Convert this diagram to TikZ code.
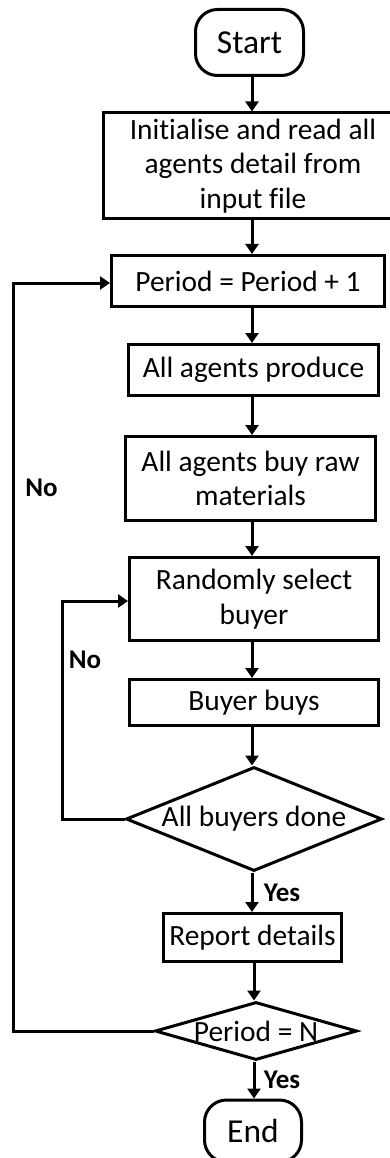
\documentclass[tikz,border=0pt]{standalone}
\usepackage{fontspec}
\setmainfont{Carlito}[Ligatures=NoCommon]
\usetikzlibrary{shapes.geometric,arrows.meta}
\begin{document}
\begin{tikzpicture}[x=1pt,y=-1pt,line width=3pt,
  box/.style={draw,rectangle,inner sep=0pt,align=center,
    font=\fontsize{29.4}{34.5}\selectfont},
  term/.style={draw,rectangle,rounded corners=22pt,inner sep=0pt,
    font=\fontsize{33.5}{40}\selectfont},
  decision/.style={draw,diamond,inner sep=0pt,
    font=\fontsize{29.4}{34.5}\selectfont},
  flow/.style={-{Triangle[length=10pt,width=13pt]}},
  lbl/.style={font=\bfseries\fontsize{27}{32}\selectfont,inner sep=0pt}]
\useasboundingbox (0,0) rectangle (389,1158);

% process column
\node[term,minimum width=108pt,minimum height=66pt] (start) at (249.5,42.5) {Start};
\node[box,minimum width=299pt,minimum height=106pt] (init) at (253,166)
  {Initialise and read all\\agents detail from\\input file};
\node[box,minimum width=273pt,minimum height=51pt] (period) at (248,281) {Period = Period + 1};
\node[box,minimum width=250pt,minimum height=51pt] (produce) at (253.5,370) {All agents produce};
\node[box,minimum width=250pt,minimum height=84pt] (buyraw) at (250.5,478.5)
  {All agents buy raw\\materials};
\node[box,minimum width=249pt,minimum height=83pt] (select) at (254,599)
  {Randomly select\\buyer};
\node[box,minimum width=249pt,minimum height=46pt] (buys) at (254,702.5) {Buyer buys};
\node[decision,aspect=2.46,minimum width=256pt,minimum height=104pt] (done) at (254,819) {All buyers done};
\node[box,minimum width=178pt,minimum height=48pt] (report) at (252.5,937.5) {Report details};
\node[decision,aspect=3.48,minimum width=202pt,minimum height=58pt] (last) at (256,1031) {Period = N};
\node[term,minimum width=97pt,minimum height=62pt] (end) at (253,1131) {End};

% arrow columns and loop corners
\coordinate (col) at (252,0);
\coordinate (colb) at (254,0);
\coordinate (outer) at (13,283);
\coordinate (inner) at (62,601);

% main flow
\draw[flow] (start.south -| col) -- (init.north -| col);
\draw[flow] (init.south -| col) -- (period.north -| col);
\draw[flow] (period.south -| col) -- (produce.north -| col);
\draw[flow] (produce.south -| col) -- (buyraw.north -| col);
\draw[flow] (buyraw.south -| col) -- (select.north -| col);
\draw[flow] (select.south -| col) -- (buys.north -| col);
\draw[flow] (buys.south -| col) -- (done.north -| col);
\draw[flow] (done.south -| col) -- (report.north -| col);
\draw[flow] (report.south -| colb) -- (last.north -| colb);
\draw[flow] (last.south -| colb) -- (end.north -| colb);

% loops
\draw[flow] (done.west) -| (inner) -- (inner -| select.west);
\draw[flow] (last.west) -| (outer) -- (outer -| period.west);

% branch labels
\node[lbl] (noouter) at (41.5,488) {No};
\node[lbl] (noinner) at (85,660) {No};
\node[lbl] (yesdone) at (282,893) {Yes};
\node[lbl] (yeslast) at (282,1080) {Yes};
\end{tikzpicture}
\end{document}
